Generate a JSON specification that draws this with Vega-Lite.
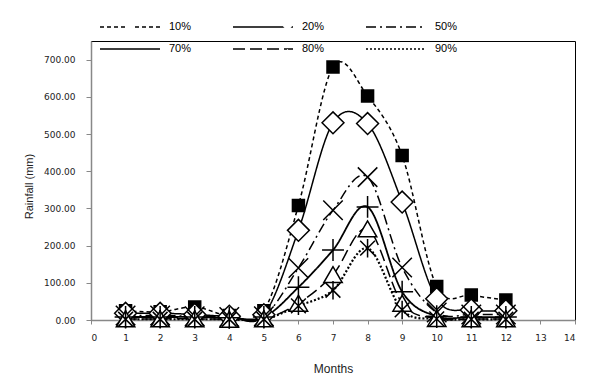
{
  "$schema": "https://vega.github.io/schema/vega-lite/v6.json",
  "width": 484,
  "height": 279,
  "autosize": {"type": "none"},
  "padding": {"left": 91, "top": 41, "right": 22, "bottom": 59},
  "background": "white",
  "config": {
    "view": {"stroke": "black", "strokeWidth": 1},
    "font": "Liberation Sans"
  },
  "data": {
    "values": [
      {"month": 1, "series": "10%", "rain": 25}, {"month": 2, "series": "10%", "rain": 22}, {"month": 3, "series": "10%", "rain": 35}, {"month": 4, "series": "10%", "rain": 12}, {"month": 5, "series": "10%", "rain": 25}, {"month": 6, "series": "10%", "rain": 308}, {"month": 7, "series": "10%", "rain": 680}, {"month": 8, "series": "10%", "rain": 602}, {"month": 9, "series": "10%", "rain": 442}, {"month": 10, "series": "10%", "rain": 90}, {"month": 11, "series": "10%", "rain": 67}, {"month": 12, "series": "10%", "rain": 54},
      {"month": 1, "series": "20%", "rain": 18}, {"month": 2, "series": "20%", "rain": 18}, {"month": 3, "series": "20%", "rain": 15}, {"month": 4, "series": "20%", "rain": 10}, {"month": 5, "series": "20%", "rain": 14}, {"month": 6, "series": "20%", "rain": 241}, {"month": 7, "series": "20%", "rain": 530}, {"month": 8, "series": "20%", "rain": 528}, {"month": 9, "series": "20%", "rain": 317}, {"month": 10, "series": "20%", "rain": 57}, {"month": 11, "series": "20%", "rain": 27}, {"month": 12, "series": "20%", "rain": 25},
      {"month": 1, "series": "50%", "rain": 12}, {"month": 2, "series": "50%", "rain": 12}, {"month": 3, "series": "50%", "rain": 10}, {"month": 4, "series": "50%", "rain": 8}, {"month": 5, "series": "50%", "rain": 10}, {"month": 6, "series": "50%", "rain": 140}, {"month": 7, "series": "50%", "rain": 295}, {"month": 8, "series": "50%", "rain": 384}, {"month": 9, "series": "50%", "rain": 141}, {"month": 10, "series": "50%", "rain": 20}, {"month": 11, "series": "50%", "rain": 15}, {"month": 12, "series": "50%", "rain": 15},
      {"month": 1, "series": "70%", "rain": 8}, {"month": 2, "series": "70%", "rain": 8}, {"month": 3, "series": "70%", "rain": 8}, {"month": 4, "series": "70%", "rain": 6}, {"month": 5, "series": "70%", "rain": 8}, {"month": 6, "series": "70%", "rain": 88}, {"month": 7, "series": "70%", "rain": 188}, {"month": 8, "series": "70%", "rain": 304}, {"month": 9, "series": "70%", "rain": 76}, {"month": 10, "series": "70%", "rain": 10}, {"month": 11, "series": "70%", "rain": 8}, {"month": 12, "series": "70%", "rain": 8},
      {"month": 1, "series": "80%", "rain": 3}, {"month": 2, "series": "80%", "rain": 3}, {"month": 3, "series": "80%", "rain": 3}, {"month": 4, "series": "80%", "rain": 2}, {"month": 5, "series": "80%", "rain": 3}, {"month": 6, "series": "80%", "rain": 45}, {"month": 7, "series": "80%", "rain": 122}, {"month": 8, "series": "80%", "rain": 245}, {"month": 9, "series": "80%", "rain": 45}, {"month": 10, "series": "80%", "rain": 4}, {"month": 11, "series": "80%", "rain": 3}, {"month": 12, "series": "80%", "rain": 3},
      {"month": 1, "series": "90%", "rain": 2}, {"month": 2, "series": "90%", "rain": 2}, {"month": 3, "series": "90%", "rain": 2}, {"month": 4, "series": "90%", "rain": 2}, {"month": 5, "series": "90%", "rain": 2}, {"month": 6, "series": "90%", "rain": 38}, {"month": 7, "series": "90%", "rain": 80}, {"month": 8, "series": "90%", "rain": 193}, {"month": 9, "series": "90%", "rain": 27}, {"month": 10, "series": "90%", "rain": 3}, {"month": 11, "series": "90%", "rain": 2}, {"month": 12, "series": "90%", "rain": 2}
    ]
  },
  "encoding": {
    "x": {
      "field": "month", "type": "quantitative",
      "scale": {"domain": [0, 14], "nice": false},
      "axis": {
        "values": [0, 1, 2, 3, 4, 5, 6, 7, 8, 9, 10, 11, 12, 13, 14],
        "title": "Months", "grid": false,
        "domainColor": "#888888", "domainWidth": 1.5,
        "tickColor": "#888888", "tickSize": 4,
        "labelFont": "DejaVu Sans", "labelFontSize": 9, "labelColor": "#222222", "labelPadding": 9,
        "titleFont": "Liberation Sans", "titleFontSize": 12, "titleFontWeight": "normal", "titleColor": "#222222",
        "titleX": 242, "titleY": 52, "titleBaseline": "alphabetic"
      }
    },
    "y": {
      "field": "rain", "type": "quantitative",
      "scale": {"domain": [0, 750], "nice": false},
      "axis": {
        "values": [0, 100, 200, 300, 400, 500, 600, 700],
        "format": ".2f",
        "title": "Rainfall (mm)", "grid": false,
        "domainColor": "#888888", "domainWidth": 1.5,
        "tickColor": "#888888", "tickSize": 5,
        "labelFont": "DejaVu Sans", "labelFontSize": 9, "labelColor": "#222222", "labelPadding": 11,
        "titleFont": "Liberation Sans", "titleFontSize": 11, "titleFontWeight": "normal", "titleColor": "#222222",
        "titleX": -62, "titleY": 145, "titleAngle": -90, "titleAlign": "center", "titleBaseline": "middle"
      }
    }
  },
  "layer": [
    {
      "mark": {"type": "line", "interpolate": "cardinal", "color": "black"},
      "encoding": {
        "strokeDash": {
          "field": "series", "type": "nominal",
          "scale": {"range": [[4, 3], [1, 0], [10, 4, 2, 4], [1, 0], [12, 5], [2, 2]]},
          "legend": {
            "orient": "none", "legendX": 8, "legendY": -25, "columns": 3, "direction": "horizontal", "title": null,
            "symbolType": "stroke", "symbolSize": 3600, "symbolStrokeWidth": 1.5, "symbolStrokeColor": "black",
            "clipHeight": 22, "rowPadding": 0, "columnPadding": 40, "labelOffset": 8,
            "labelFont": "Liberation Sans", "labelFontSize": 11, "labelColor": "black"
          }
        },
        "strokeWidth": {
          "field": "series", "type": "nominal",
          "scale": {"type": "ordinal", "domain": ["90%", "80%", "70%", "50%", "20%", "10%"], "range": [2.2, 1.5, 1.8, 1.5, 1.5, 1.5]},
          "legend": null
        }
      }
    },
    {
      "mark": {"type": "point", "filled": false, "fill": "white", "stroke": "black", "strokeWidth": 1.5, "opacity": 1},
      "encoding": {
        "shape": {
          "field": "series", "type": "nominal",
          "scale": {"domain": ["10%", "20%", "50%", "70%", "80%", "90%"], "range": ["M-1,-1H1V1H-1Z M-0.75,-0.75H0.75V0.75H-0.75Z M-0.5,-0.5H0.5V0.5H-0.5Z M-0.25,-0.25H0.25V0.25H-0.25Z M-0.1,-0.1H0.1V0.1H-0.1Z", "diamond", "M-1,-1L1,1M-1,1L1,-1", "M-1,0H1M0,-1V1", "triangle-up", "M0,-1V1M-0.8,-0.8L0.8,0.8M-0.8,0.8L0.8,-0.8"]},
          "legend": {
            "orient": "none", "legendX": 8, "legendY": -20, "columns": 3, "direction": "horizontal", "title": null,
            "symbolSize": 80, "symbolStrokeWidth": 1.5, "symbolStrokeColor": "black", "symbolFillColor": "white",
            "symbolOffset": 25, "labelOffset": 59, "labelOpacity": 0,
            "rowPadding": 11, "columnPadding": 40,
            "labelFont": "Liberation Sans", "labelFontSize": 11, "labelColor": "black",
            "encode": {
              "symbols": {
                "update": {
                  "stroke": {"value": "black"},
                  "strokeWidth": {"value": 1.5},
                  "fill": {"value": "white"},
                  "opacity": {"value": 1}
                }
              }
            }
          }
        },
        "size": {
          "field": "series", "type": "nominal",
          "scale": {"type": "ordinal", "domain": ["90%", "80%", "70%", "50%", "20%", "10%"], "range": [340, 340, 480, 380, 480, 144]},
          "legend": null
        }
      }
    }
  ]
}
